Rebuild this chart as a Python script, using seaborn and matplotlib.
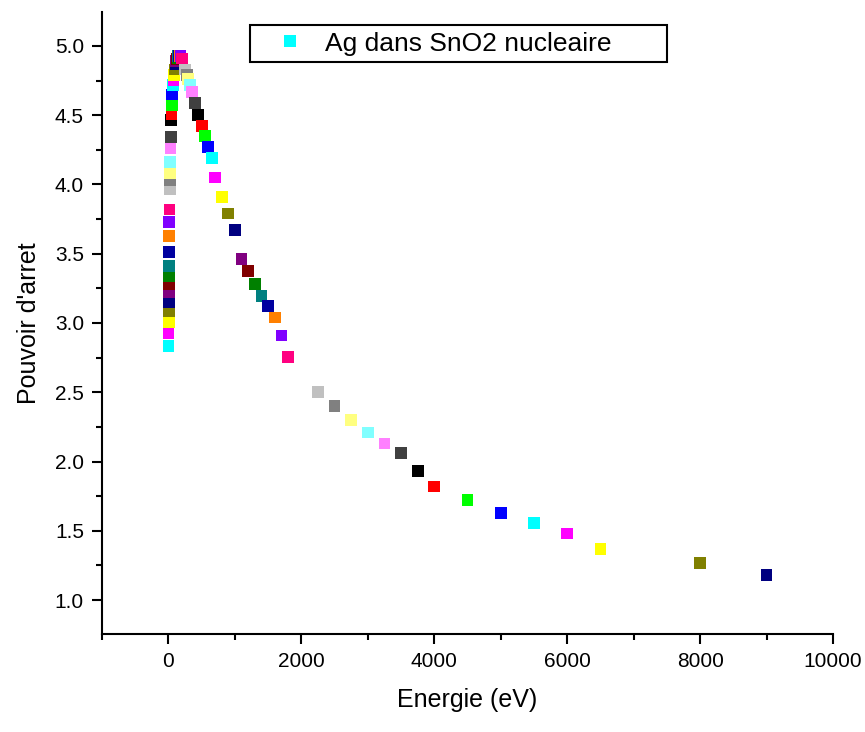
import matplotlib
matplotlib.use("Agg")
import matplotlib.pyplot as plt
from matplotlib.lines import Line2D
from matplotlib.ticker import MultipleLocator
import seaborn as sns
import pandas as pd

# Data (energy in eV, stopping power)
energy = [1, 2, 3, 4, 5, 6, 7, 8, 9, 10, 12, 14, 16, 20, 22, 24, 26, 30, 35,
          40, 45, 50, 55, 65, 75, 85, 95, 105, 115, 125, 135, 145, 155, 165,
          180, 200, 250, 275, 300, 325, 350, 400, 450, 500, 550, 600, 650,
          700, 800, 900, 1000, 1100, 1200, 1300, 1400, 1500, 1600, 1700, 1800,
          2250, 2500, 2750, 3000, 3250, 3500, 3750, 4000, 4500, 5000, 5500,
          6000, 6500, 8000, 9000]
stopping = [2.834, 2.926, 3.007, 3.087, 3.154, 3.222, 3.28, 3.34, 3.41, 3.515,
            3.63, 3.73, 3.82, 3.97, 4.03, 4.085, 4.16, 4.26, 4.34,
            4.466, 4.51, 4.576, 4.65, 4.72, 4.755, 4.79, 4.83, 4.87, 4.89,
            4.905, 4.915, 4.925, 4.93, 4.93, 4.925, 4.91, 4.83, 4.79, 4.76,
            4.72, 4.67, 4.59, 4.50, 4.42, 4.35, 4.27, 4.19, 4.05, 3.91, 3.79,
            3.67, 3.46, 3.375, 3.28, 3.195, 3.12, 3.04, 2.91, 2.755,
            2.50, 2.40, 2.30, 2.21, 2.13, 2.06, 1.93, 1.82, 1.72, 1.63, 1.555,
            1.48, 1.37, 1.27, 1.18]
series_label = "Ag dans SnO2 nucleaire"
x_label = "Energie (eV)"
y_label = "Pouvoir d'arret"

# Origin-style colour cycle (white omitted, starting at cyan)
origin_cycle = ["#00FFFF", "#FF00FF", "#FFFF00", "#808000", "#000080", "#800080",
                "#800000", "#008000", "#008080", "#0000A0", "#FF8000", "#8000FF",
                "#FF0080", "#C0C0C0", "#808080", "#FFFF80", "#80FFFF", "#FF80FF",
                "#404040", "#000000", "#FF0000", "#00FF00", "#0000FF"]

df = pd.DataFrame({"E": energy, "S": stopping})
df["idx"] = range(len(df))
palette = [origin_cycle[i % len(origin_cycle)] for i in range(len(df))]

sns.set_style("ticks")
plt.rcParams["font.family"] = ["Liberation Sans", "DejaVu Sans"]
plt.rcParams["text.color"] = "black"
plt.rcParams["axes.labelcolor"] = "black"

fig = plt.figure(figsize=(8.65, 7.32), dpi=100)
ax = fig.add_axes([102 / 865, 1 - 634 / 732, 731 / 865, 622 / 732])

sns.scatterplot(data=df, x="E", y="S", hue="idx", palette=palette,
                marker="s", s=72, linewidth=0, legend=False, ax=ax)

ax.set_xlim(-1000, 10000)
ax.set_ylim(0.755, 5.245)
ax.xaxis.set_major_locator(MultipleLocator(2000))
ax.xaxis.set_minor_locator(MultipleLocator(1000))
ax.yaxis.set_major_locator(MultipleLocator(0.5))
ax.yaxis.set_minor_locator(MultipleLocator(0.25))
ax.yaxis.set_major_formatter(matplotlib.ticker.FormatStrFormatter("%.1f"))

for side in ("top", "right"):
    ax.spines[side].set_visible(False)
for side in ("left", "bottom"):
    ax.spines[side].set_linewidth(1.5)
    ax.spines[side].set_color("black")

ax.tick_params(axis="both", which="major", direction="out", length=7, width=1.5,
               labelsize=15, colors="black", pad=6)
ax.tick_params(axis="both", which="minor", direction="out", length=4, width=1.5,
               colors="black")

ax.set_xlabel(x_label, fontsize=18, labelpad=12, color="black")
ax.set_ylabel(y_label, fontsize=18, labelpad=10, color="black")

handle = Line2D([], [], linestyle="none", marker="s", markersize=8,
                markerfacecolor="#00FFFF", markeredgewidth=0)
leg = ax.legend([handle], [series_label], loc="upper left",
                bbox_to_anchor=(0.2025, 0.923, 0.571, 0.056), mode="expand",
                borderaxespad=0, fontsize=19, frameon=True, fancybox=False,
                handlelength=2.5, handletextpad=0.1, borderpad=0.25)
leg.get_frame().set_edgecolor("black")
leg.get_frame().set_linewidth(1.5)
leg.get_frame().set_alpha(1)
for t in leg.get_texts():
    t.set_color("black")

fig.savefig("out.png", dpi=100)
